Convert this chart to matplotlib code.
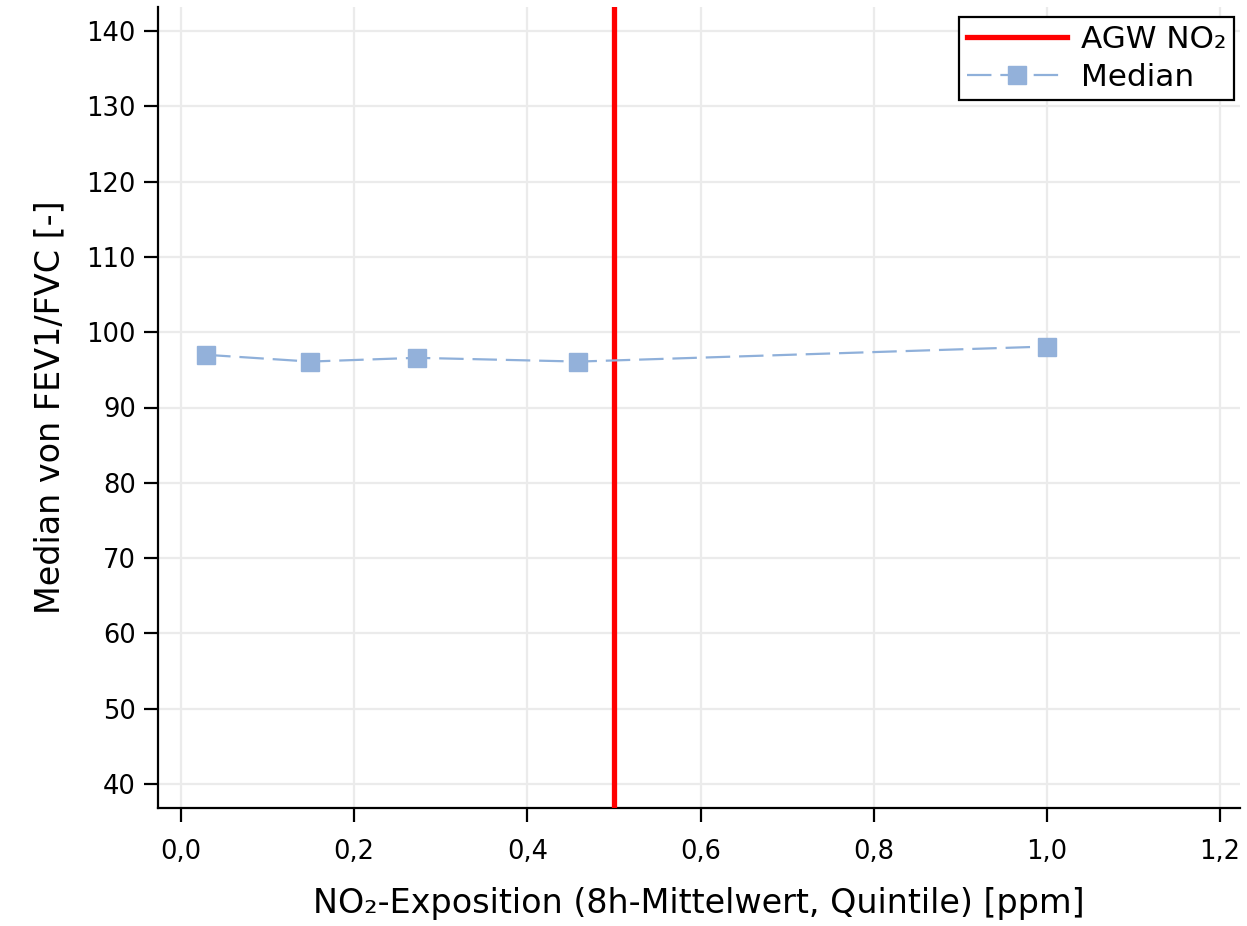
import matplotlib
matplotlib.use("Agg")
import matplotlib.pyplot as plt

# Quintile means of NO2 exposure (ppm) and median FEV1/FVC per quintile
exposure = [0.029, 0.149, 0.272, 0.459, 1.0]
median_ratio = [97.0, 96.1, 96.6, 96.1, 98.1]
agw_no2 = 0.5

x_ticks = [0.0, 0.2, 0.4, 0.6, 0.8, 1.0, 1.2]
x_tick_labels = ["0,0", "0,2", "0,4", "0,6", "0,8", "1,0", "1,2"]
y_ticks = [40, 50, 60, 70, 80, 90, 100, 110, 120, 130, 140]

plt.rcParams["font.family"] = ["DejaVu Sans"]

fig = plt.figure(figsize=(12.47, 9.26), dpi=100)
ax = fig.add_axes([158 / 1247, 1 - 808 / 926, (1240 - 158) / 1247, (808 - 7) / 926])

ax.axvline(agw_no2, color="#ff0000", lw=3.8, label="AGW NO₂", zorder=3)
ax.plot(exposure, median_ratio, color="#8fb0da", lw=1.6, dashes=(11, 4),
        marker="s", markersize=13, markerfacecolor="#93b1da",
        markeredgecolor="#93b1da", label="Median", zorder=4)

ax.set_xlim(-0.0266, 1.223)
ax.set_ylim(36.8, 143.2)
ax.set_xticks(x_ticks)
ax.set_xticklabels(x_tick_labels)
ax.set_yticks(y_ticks)

ax.grid(True, color="#ebebeb", lw=1.6, zorder=0)
ax.set_axisbelow(True)
for side in ("top", "right"):
    ax.spines[side].set_visible(False)
for side in ("left", "bottom"):
    ax.spines[side].set_linewidth(1.6)

ax.tick_params(axis="both", direction="out", length=10, width=1.6,
               labelsize=18.5, colors="black")
ax.tick_params(axis="y", pad=6)
ax.tick_params(axis="x", pad=12)

ax.set_xlabel("NO₂-Exposition (8h-Mittelwert, Quintile) [ppm]", fontsize=24, labelpad=16)
ax.set_ylabel("Median von FEV1/FVC [-]", fontsize=24, labelpad=14)

leg = ax.legend(loc="upper right", bbox_to_anchor=(0.9945, 0.9875), fontsize=22.4,
                frameon=True, fancybox=False, edgecolor="black", framealpha=1,
                handlelength=3.2, borderpad=0.25, labelspacing=0.3,
                handletextpad=0.45, borderaxespad=0)
leg.get_frame().set_linewidth(1.6)

fig.savefig("out.png", dpi=100)
